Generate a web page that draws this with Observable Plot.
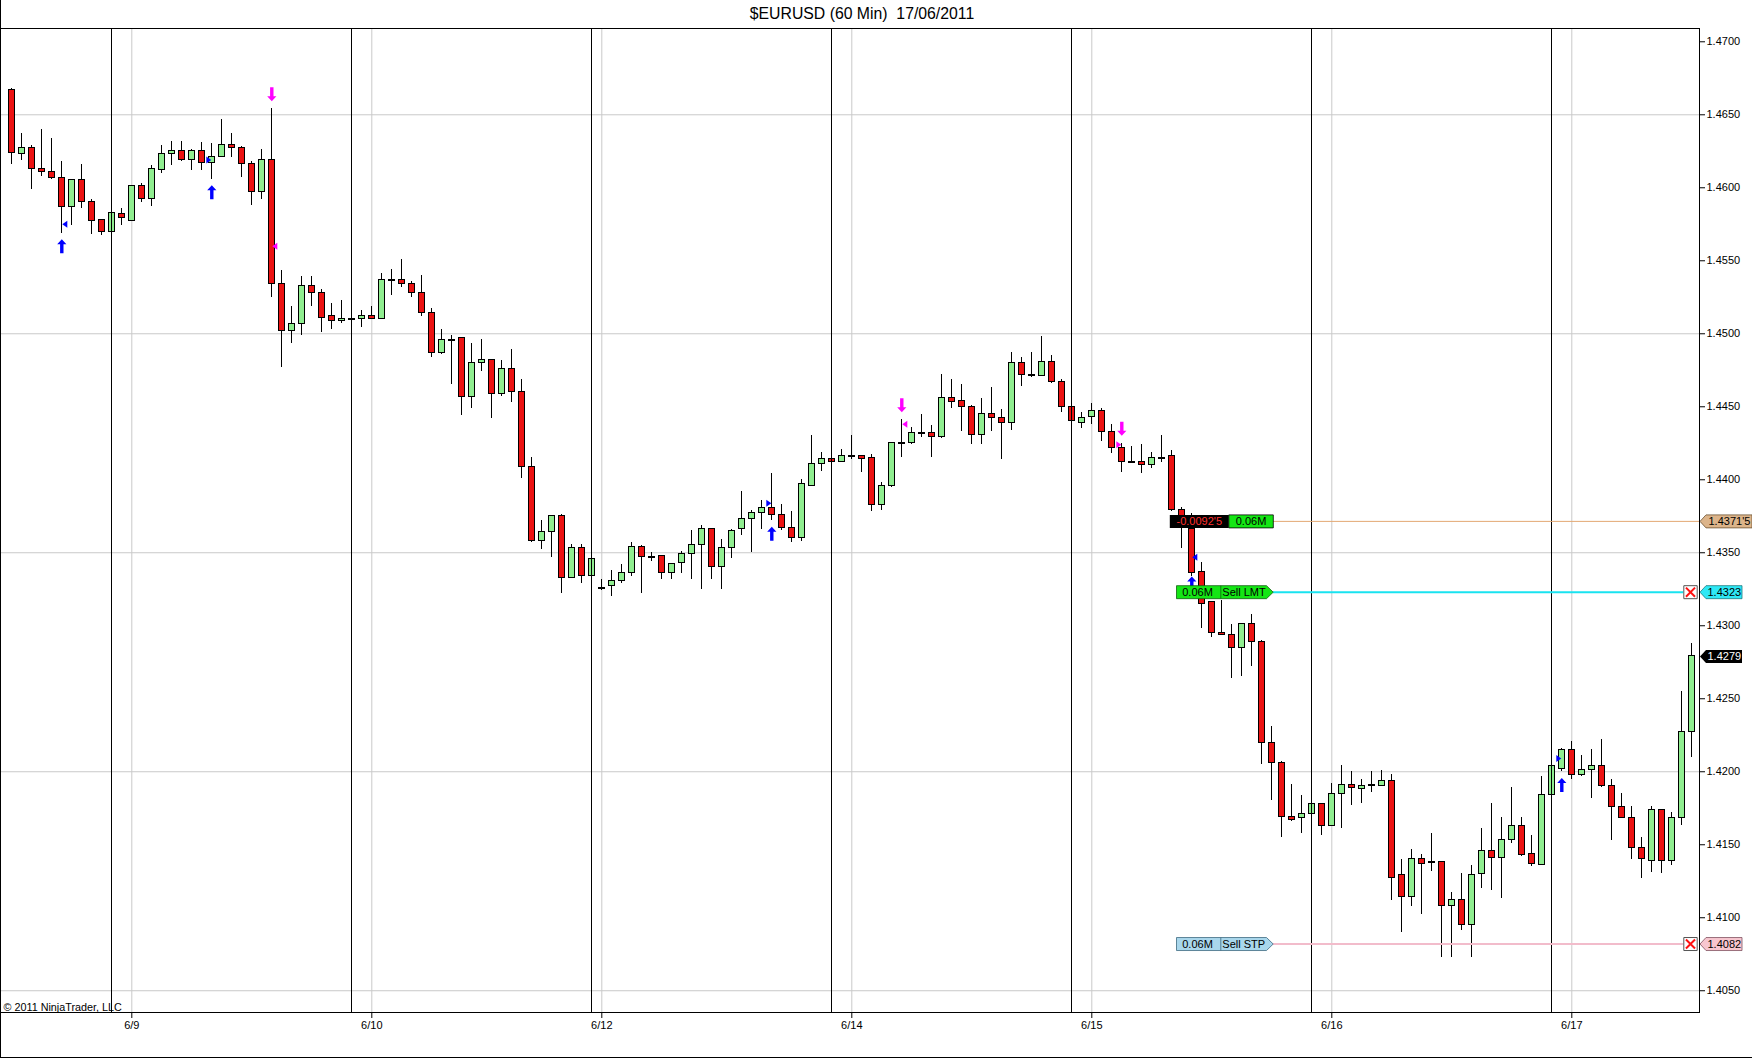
<!DOCTYPE html>
<html>
<head>
<meta charset="utf-8">
<script src="https://cdn.jsdelivr.net/npm/d3@7"></script>
<script src="https://cdn.jsdelivr.net/npm/@observablehq/plot@0.6"></script>
<style>
html,body{margin:0;padding:0;background:#fff;}
#wrap{position:relative;width:1752px;height:1058px;overflow:hidden;background:#fff;font-family:"Liberation Sans",Arial,sans-serif;}
#title{position:absolute;left:0;top:0;width:1724px;height:28px;text-align:center;font-size:15.8px;line-height:28px;white-space:pre;color:#000;}
#chart{position:absolute;left:0;top:28px;}
#bl{position:absolute;left:0;top:0;width:1px;height:1058px;background:#000;}
#bb{position:absolute;left:0;top:1057px;width:1752px;height:1px;background:#000;}
</style>
</head>
<body>
<div id="wrap">
  <div id="title">$EURUSD (60 Min)  17/06/2011</div>
  <div id="chart"></div>
  <div id="bl"></div>
  <div id="bb"></div>
</div>
<script>
// ---------- DATA (hourly EUR/USD candles, index 0..168) ----------
const opens = [
1.4667,1.4623,1.4627,1.4613,1.4611,1.4607,1.4587,1.4605,1.4590,1.4578,
1.4570,1.4582,1.4577,1.4601,1.4592,1.4612,1.4623,1.4625,1.4619,1.4625,
1.4617,1.4621,1.4629,1.4627,1.4616,1.4597,1.4619,1.4534,1.4502,1.4507,
1.4533,1.4528,1.4512,1.4509,1.4510,1.4510,1.4512,1.4510,1.4537,1.4537,
1.4534,1.4528,1.4514,1.4487,1.4496,1.4497,1.4457,1.4480,1.4482,1.4459,
1.4476,1.4460,1.4409,1.4358,1.4364,1.4375,1.4333,1.4353,1.4334,1.4326,
1.4327,1.4331,1.4336,1.4354,1.4347,1.4348,1.4336,1.4343,1.4349,1.4355,
1.4366,1.4340,1.4353,1.4366,1.4373,1.4377,1.4381,1.4376,1.4367,1.4360,
1.4396,1.4411,1.4414,1.4412,1.4416,1.4416,1.4415,1.4383,1.4396,1.4425,
1.4425,1.4432,1.4432,1.4429,1.4456,1.4454,1.4450,1.4431,1.4445,1.4442,
1.4439,1.4480,1.4472,1.4471,1.4481,1.4467,1.4450,1.4439,1.4443,1.4447,
1.4433,1.4422,1.4412,1.4412,1.4410,1.4415,1.4416,1.4379,1.4366,1.4337,
1.4316,1.4295,1.4294,1.4285,1.4301,1.4289,1.4220,1.4206,1.4169,1.4168,
1.4171,1.4178,1.4163,1.4185,1.4191,1.4188,1.4191,1.4190,1.4194,1.4129,
1.4114,1.4140,1.4138,1.4138,1.4108,1.4112,1.4095,1.4130,1.4146,1.4141,
1.4153,1.4163,1.4144,1.4136,1.4184,1.4202,1.4215,1.4198,1.4201,1.4204,
1.4190,1.4176,1.4168,1.4148,1.4139,1.4174,1.4139,1.4168,1.4227];
const highs = [
1.4668,1.4637,1.4629,1.4640,1.4634,1.4618,1.4606,1.4616,1.4592,1.4578,
1.4583,1.4586,1.4601,1.4603,1.4615,1.4629,1.4632,1.4632,1.4626,1.4631,
1.4630,1.4647,1.4637,1.4628,1.4618,1.4626,1.4654,1.4543,1.4519,1.4539,
1.4539,1.4530,1.4521,1.4523,1.4512,1.4516,1.4519,1.4541,1.4544,1.4551,
1.4536,1.4540,1.4517,1.4503,1.4499,1.4497,1.4493,1.4496,1.4482,1.4482,
1.4489,1.4469,1.4415,1.4372,1.4375,1.4376,1.4356,1.4356,1.4347,1.4332,
1.4338,1.4342,1.4357,1.4355,1.4350,1.4348,1.4342,1.4351,1.4365,1.4369,
1.4366,1.4359,1.4366,1.4392,1.4379,1.4386,1.4404,1.4383,1.4378,1.4400,
1.4430,1.4419,1.4415,1.4421,1.4430,1.4416,1.4417,1.4398,1.4425,1.4441,
1.4436,1.4445,1.4437,1.4472,1.4469,1.4465,1.4451,1.4456,1.4463,1.4448,
1.4487,1.4484,1.4487,1.4498,1.4485,1.4469,1.4451,1.4446,1.4452,1.4449,
1.4438,1.4425,1.4423,1.4424,1.4419,1.4430,1.4420,1.4381,1.4377,1.4343,
1.4316,1.4317,1.4301,1.4301,1.4308,1.4290,1.4231,1.4207,1.4191,1.4184,
1.4182,1.4178,1.4192,1.4204,1.4200,1.4195,1.4200,1.4201,1.4198,1.4140,
1.4147,1.4143,1.4158,1.4138,1.4117,1.4130,1.4136,1.4161,1.4178,1.4169,
1.4189,1.4169,1.4156,1.4197,1.4206,1.4216,1.4221,1.4211,1.4215,1.4222,
1.4195,1.4185,1.4176,1.4155,1.4176,1.4174,1.4172,1.4255,1.4288];
const lows = [
1.4616,1.4619,1.4599,1.4608,1.4606,1.4569,1.4574,1.4586,1.4568,1.4567,
1.4567,1.4574,1.4577,1.4590,1.4587,1.4610,1.4615,1.4618,1.4612,1.4612,
1.4606,1.4621,1.4621,1.4607,1.4588,1.4592,1.4525,1.4477,1.4493,1.4499,
1.4519,1.4501,1.4503,1.4507,1.4508,1.4504,1.4510,1.4510,1.4526,1.4532,
1.4525,1.4512,1.4484,1.4486,1.4465,1.4444,1.4449,1.4474,1.4442,1.4457,
1.4453,1.4401,1.4357,1.4352,1.4347,1.4322,1.4333,1.4329,1.4323,1.4324,
1.4320,1.4329,1.4334,1.4322,1.4344,1.4332,1.4332,1.4336,1.4332,1.4325,
1.4332,1.4325,1.4346,1.4362,1.4350,1.4366,1.4372,1.4365,1.4357,1.4358,
1.4396,1.4406,1.4411,1.4412,1.4414,1.4405,1.4378,1.4379,1.4395,1.4415,
1.4424,1.4429,1.4415,1.4428,1.4449,1.4433,1.4424,1.4424,1.4433,1.4414,
1.4434,1.4464,1.4470,1.4471,1.4466,1.4446,1.4438,1.4435,1.4438,1.4426,
1.4418,1.4405,1.4411,1.4404,1.4408,1.4412,1.4378,1.4353,1.4334,1.4298,
1.4292,1.4293,1.4264,1.4265,1.4272,1.4205,1.4180,1.4155,1.4166,1.4158,
1.4168,1.4156,1.4163,1.4161,1.4177,1.4178,1.4186,1.4190,1.4112,1.4090,
1.4108,1.4102,1.4132,1.4073,1.4073,1.4091,1.4073,1.4120,1.4119,1.4113,
1.4151,1.4142,1.4135,1.4136,1.4181,1.4200,1.4195,1.4197,1.4182,1.4189,
1.4153,1.4168,1.4140,1.4127,1.4131,1.4130,1.4136,1.4163,1.4210];
const closes = [
1.4624,1.4627,1.4613,1.4611,1.4607,1.4587,1.4605,1.4590,1.4577,1.4570,
1.4583,1.4579,1.4601,1.4592,1.4613,1.4623,1.4625,1.4619,1.4625,1.4617,
1.4621,1.4629,1.4627,1.4616,1.4597,1.4619,1.4534,1.4502,1.4507,1.4533,
1.4528,1.4511,1.4509,1.4510,1.4510,1.4512,1.4510,1.4537,1.4537,1.4534,
1.4528,1.4514,1.4487,1.4496,1.4496,1.4457,1.4480,1.4482,1.4459,1.4476,
1.4460,1.4409,1.4358,1.4364,1.4375,1.4333,1.4353,1.4334,1.4346,1.4326,
1.4331,1.4336,1.4354,1.4347,1.4347,1.4336,1.4342,1.4349,1.4355,1.4366,
1.4340,1.4353,1.4365,1.4373,1.4377,1.4381,1.4376,1.4367,1.4360,1.4397,
1.4411,1.4414,1.4412,1.4416,1.4416,1.4414,1.4383,1.4396,1.4425,1.4425,
1.4432,1.4432,1.4429,1.4456,1.4453,1.4450,1.4431,1.4445,1.4442,1.4439,
1.4480,1.4472,1.4472,1.4481,1.4467,1.4450,1.4440,1.4442,1.4447,1.4433,
1.4422,1.4412,1.4412,1.4410,1.4415,1.4414,1.4379,1.4367,1.4336,1.4315,
1.4295,1.4294,1.4285,1.4301,1.4289,1.4220,1.4206,1.4169,1.4167,1.4171,
1.4178,1.4163,1.4185,1.4191,1.4189,1.4190,1.4191,1.4194,1.4127,1.4114,
1.4140,1.4137,1.4138,1.4108,1.4112,1.4095,1.4129,1.4146,1.4141,1.4153,
1.4163,1.4143,1.4137,1.4184,1.4204,1.4215,1.4198,1.4201,1.4204,1.4190,
1.4176,1.4168,1.4148,1.4140,1.4174,1.4139,1.4168,1.4227,1.4279];

const sessionStarts = [10, 34, 58, 82, 106, 130, 154];
const dayTicks  = [12, 36, 59, 84, 108, 132, 156];
const dayLabels = ["6/9", "6/10", "6/12", "6/14", "6/15", "6/16", "6/17"];
const priceTicks = [1.4050,1.4100,1.4150,1.4200,1.4250,1.4300,1.4350,1.4400,1.4450,1.4500,1.4550,1.4600,1.4650,1.4700];
const priceGrid  = [1.4050,1.4200,1.4350,1.4500,1.4650];

// signal arrows
const buyIdx    = [5, 20, 76, 118, 155];
const buyPrice  = [1.4560, 1.4597, 1.4363, 1.4329, 1.4191];
const sellIdx   = [26, 89, 111];
const sellPrice = [1.4664, 1.4451, 1.4435];
// execution markers
const execIdx   = [5, 20, 26, 76, 89, 111, 118, 155];
const execPrice = [1.4575, 1.4619, 1.4560, 1.4384, 1.4438, 1.4424, 1.4347, 1.4209];
const execDir   = ["left","right","left","right","left","right","left","right"];
const execSide  = ["buy","buy","sell","buy","sell","sell","buy","buy"];

// orders / position
const entryPrice = 1.43715, entryLabel = "1.4371'5";
const limitPrice = 1.4323,  limitLabel = "1.4323";
const stopPrice  = 1.4082,  stopLabel  = "1.4082";
const lastPrice  = 1.4279,  lastLabel  = "1.4279";
const pnlText = "-0.0092'5";
const sizeText = "0.06M";

// ---------- BUILD ----------
const candles = opens.map((o, i) => ({i, open: o, high: highs[i], low: lows[i], close: closes[i]}));
const dojis = candles.filter(d => Math.abs(d.open - d.close) < 0.00005);
const buys = buyIdx.map((x, k) => ({x, y: buyPrice[k]}));
const sells = sellIdx.map((x, k) => ({x, y: sellPrice[k]}));
const execs = execIdx.map((x, k) => ({x, y: execPrice[k], dir: execDir[k], side: execSide[k]}));

const X0 = -1.13, X1 = 168.77;
const BLUE = "#0000ff", MAGENTA = "#ff00ff";

function poly(points) {
  return {draw(ctx) {
    ctx.moveTo(points[0][0], points[0][1]);
    for (const p of points.slice(1)) ctx.lineTo(p[0], p[1]);
    ctx.closePath();
  }};
}
const upArrow = poly([[0,-7],[4.6,-2],[1.7,-2],[1.7,7],[-1.7,7],[-1.7,-2],[-4.6,-2]]);
const downArrow = poly([[0,7],[4.6,2],[1.7,2],[1.7,-7],[-1.7,-7],[-1.7,2],[-4.6,2]]);
const triLeft = poly([[-2.5,0],[2.5,-3.5],[2.5,3.5]]);
const triRight = poly([[2.5,0],[-2.5,-3.5],[-2.5,3.5]]);
const rectShape = (w) => poly([[0,-6.5],[w,-6.5],[w,6.5],[0,6.5]]);
const orderTag = (w) => poly([[0,-6.5],[w,-6.5],[w+6.7,0],[w,6.5],[0,6.5]]);
const axisTag = (w) => poly([[0,0],[6,-6.5],[w,-6.5],[w,6.5],[6,6.5]]);
const divider = {draw(ctx){ ctx.moveTo(44.3,-6.5); ctx.lineTo(44.3,6.5); }};
const xBox = poly([[-6.7,-6.5],[6.7,-6.5],[6.7,6.5],[-6.7,6.5]]);

const orderLeft = 116.47, orderTipEnd = 126.14;
const font = "'Liberation Sans', Arial, sans-serif";

const plot = Plot.plot({
  width: 1752, height: 1030,
  marginLeft: 0, marginRight: 53, marginTop: 0, marginBottom: 46,
  x: {type: "linear", domain: [X0, X1], axis: null},
  y: {type: "linear", domain: [1.40351, 1.47091], axis: null},
  style: {fontFamily: font, fontSize: "11px", color: "black", background: "transparent", overflow: "visible"},
  marks: [
    Plot.gridY(priceGrid, {stroke: "#c9c9c9", strokeOpacity: 1}),
    Plot.gridX(dayTicks, {stroke: "#c9c9c9", strokeOpacity: 1}),
    // candles
    Plot.ruleX(candles, {x: "i", y1: "low", y2: "high", stroke: "black", strokeWidth: 1, shapeRendering: "crispEdges"}),
    Plot.rect(candles, {
      x1: d => d.i - 0.33, x2: d => d.i + 0.33, y1: "open", y2: "close",
      fill: d => d.close >= d.open ? "#90ee90" : "#ec1212",
      stroke: "black", strokeWidth: 1, shapeRendering: "crispEdges"
    }),
    Plot.ruleY(dojis, {y: "close", x1: d => d.i - 0.35, x2: d => d.i + 0.35, stroke: "black", strokeWidth: 2, shapeRendering: "crispEdges"}),
    // session separators
    Plot.ruleX(sessionStarts, {stroke: "black", strokeWidth: 1, shapeRendering: "crispEdges"}),
    // signals
    Plot.dot(buys, {x: "x", y: "y", symbol: upArrow, fill: BLUE, stroke: "none", r: 5}),
    Plot.dot(sells, {x: "x", y: "y", symbol: downArrow, fill: MAGENTA, stroke: "none", r: 5}),
    Plot.dot(execs.filter(d => d.dir === "left"), {x: "x", y: "y", dx: 3, symbol: triLeft, fill: d => d.side === "buy" ? BLUE : MAGENTA, stroke: "none", r: 3}),
    Plot.dot(execs.filter(d => d.dir === "right"), {x: "x", y: "y", dx: -3, symbol: triRight, fill: d => d.side === "buy" ? BLUE : MAGENTA, stroke: "none", r: 3}),
    // price lines
    Plot.ruleY([entryPrice], {x1: orderTipEnd, x2: X1, stroke: "#e3a872", strokeWidth: 1}),
    Plot.ruleY([limitPrice], {x1: orderTipEnd, x2: 167.2, stroke: "#19e3f0", strokeWidth: 2}),
    Plot.ruleY([stopPrice], {x1: orderTipEnd, x2: 167.2, stroke: "#f2bccb", strokeWidth: 2}),
    // position box
    Plot.dot([entryPrice], {x: 115.8, y: d => d, symbol: rectShape(59), fill: "black", stroke: "none", r: 5}),
    Plot.dot([entryPrice], {x: 121.7, y: d => d, symbol: rectShape(44.5), fill: "#14e614", stroke: "black", strokeWidth: 0.8, r: 5}),
    Plot.text([pnlText], {x: 118.75, y: entryPrice, fill: "#ff3030", fontSize: 11, textAnchor: "middle"}),
    Plot.text([sizeText], {x: 123.92, y: entryPrice, fill: "black", fontSize: 11, textAnchor: "middle"}),
    // limit order box
    Plot.dot([limitPrice], {x: orderLeft, y: d => d, symbol: orderTag(90), fill: "#14e614", stroke: "#106010", strokeWidth: 0.8, r: 5}),
    Plot.dot([limitPrice], {x: orderLeft, y: d => d, symbol: divider, fill: "none", stroke: "#106010", strokeWidth: 0.8, r: 5}),
    Plot.text([sizeText], {x: 118.57, y: limitPrice, fill: "black", fontSize: 11, textAnchor: "middle"}),
    Plot.text(["Sell LMT"], {x: 121.05, y: limitPrice, fill: "black", fontSize: 11, textAnchor: "start"}),
    // stop order box
    Plot.dot([stopPrice], {x: orderLeft, y: d => d, symbol: orderTag(90), fill: "#a9d7ec", stroke: "#3c6a80", strokeWidth: 0.8, r: 5}),
    Plot.dot([stopPrice], {x: orderLeft, y: d => d, symbol: divider, fill: "none", stroke: "#3c6a80", strokeWidth: 0.8, r: 5}),
    Plot.text([sizeText], {x: 118.57, y: stopPrice, fill: "black", fontSize: 11, textAnchor: "middle"}),
    Plot.text(["Sell STP"], {x: 121.05, y: stopPrice, fill: "black", fontSize: 11, textAnchor: "start"}),
    // cancel boxes
    Plot.dot([limitPrice, stopPrice], {x: 167.87, y: d => d, symbol: xBox, fill: "white", stroke: "#555", strokeWidth: 1, r: 5}),
    Plot.dot([limitPrice, stopPrice], {x: 167.87, y: d => d, symbol: "times", stroke: "#ff1010", strokeWidth: 2, r: 4.2}),
    // right axis
    Plot.axisY(priceTicks, {anchor: "right", tickSize: 5, tickPadding: 2, tickFormat: d3.format(".4f"), fontSize: 11, fill: "black", stroke: "black"}),
    // axis price tags
    Plot.dot([entryPrice], {x: X1, dx: 0.5, y: d => d, symbol: axisTag(52), fill: "#dcb48a", stroke: "#6b5030", strokeWidth: 0.8, r: 5}),
    Plot.text([entryLabel], {x: X1, dx: 9, y: entryPrice, textAnchor: "start", fill: "black", fontSize: 11}),
    Plot.dot([limitPrice], {x: X1, dx: 0.5, y: d => d, symbol: axisTag(42), fill: "#2ee8f5", stroke: "#1a7a80", strokeWidth: 0.8, r: 5}),
    Plot.text([limitLabel], {x: X1, dx: 8, y: limitPrice, textAnchor: "start", fill: "black", fontSize: 11}),
    Plot.dot([lastPrice], {x: X1, dx: 0.5, y: d => d, symbol: axisTag(42), fill: "black", stroke: "none", r: 5}),
    Plot.text([lastLabel], {x: X1, dx: 8, y: lastPrice, textAnchor: "start", fill: "white", fontSize: 11}),
    Plot.dot([stopPrice], {x: X1, dx: 0.5, y: d => d, symbol: axisTag(42), fill: "#f7c6cf", stroke: "#805060", strokeWidth: 0.8, r: 5}),
    Plot.text([stopLabel], {x: X1, dx: 8, y: stopPrice, textAnchor: "start", fill: "black", fontSize: 11}),
    // bottom axis
    Plot.axisX(dayTicks, {anchor: "bottom", tickSize: 6, tickPadding: 3, tickFormat: d => dayLabels[dayTicks.indexOf(d)], fontSize: 11, fill: "black", stroke: "black"}),
    Plot.text(["© 2011 NinjaTrader, LLC"], {frameAnchor: "bottom-left", dx: 3, dy: -2, textAnchor: "start", lineAnchor: "bottom", fontSize: 10.8, fill: "black"}),
    Plot.frame({stroke: "black", strokeWidth: 1})
  ]
});
document.getElementById("chart").appendChild(plot);
</script>
</body>
</html>
